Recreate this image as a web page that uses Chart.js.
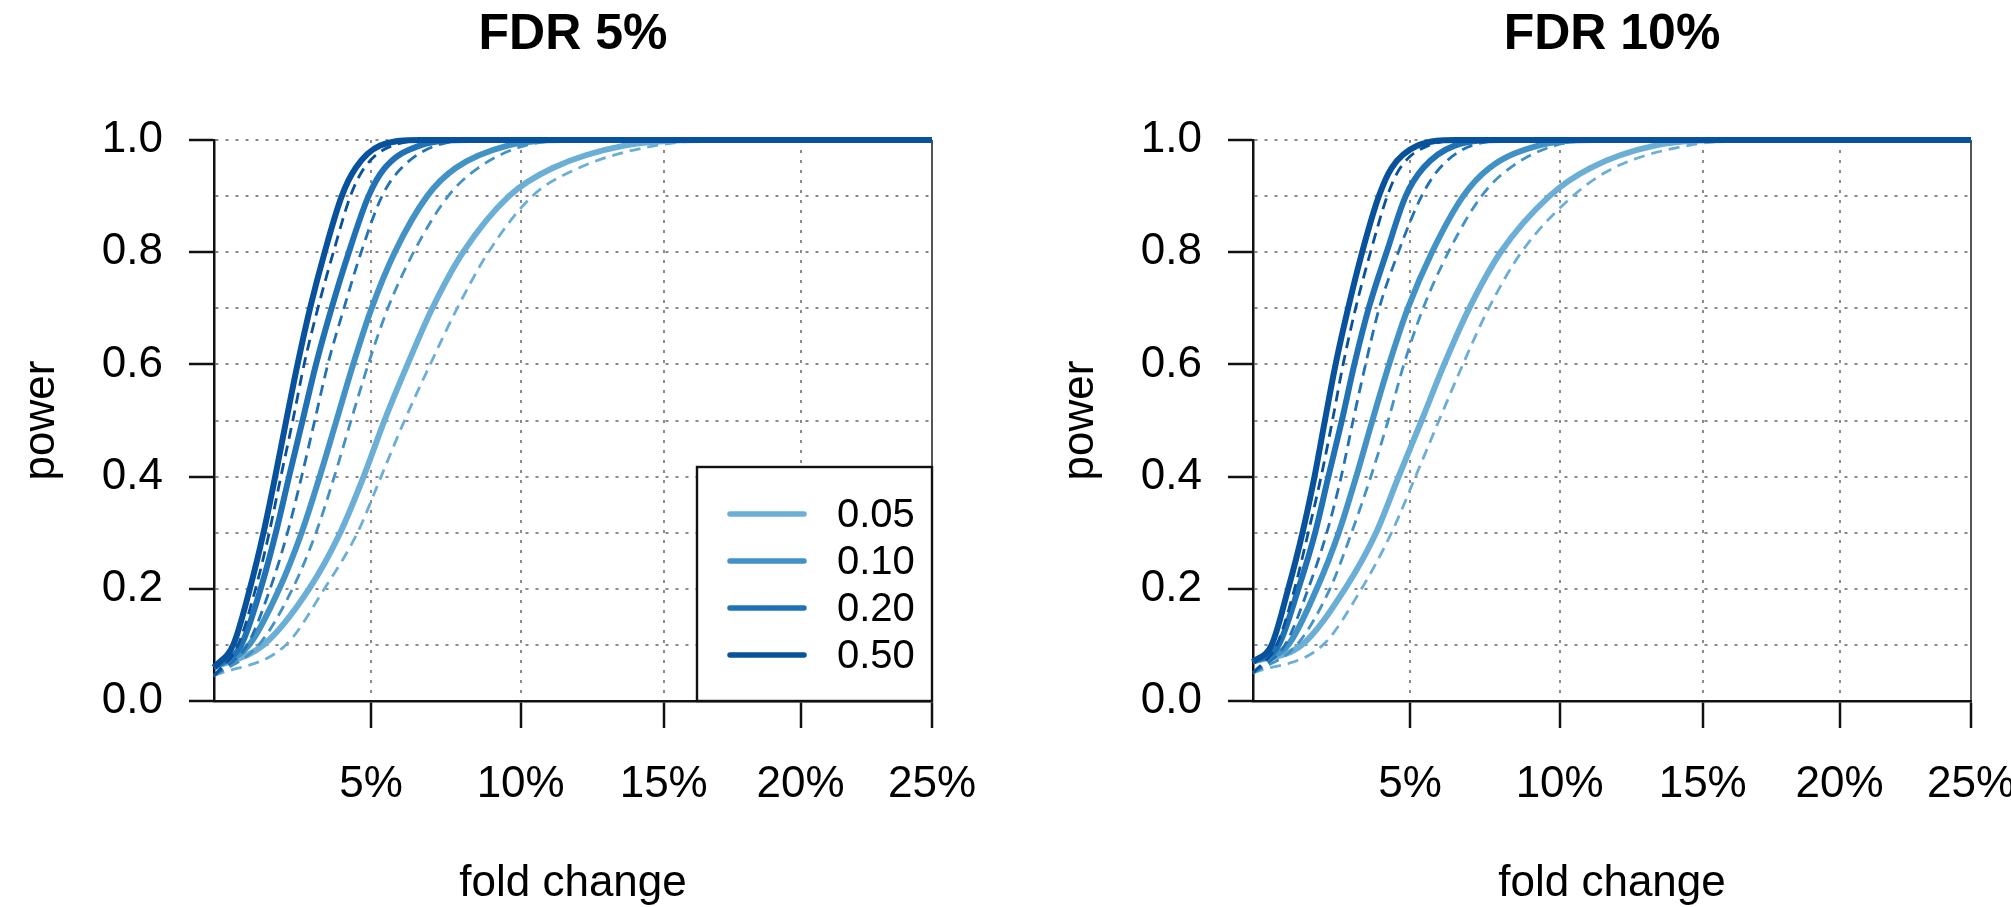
<!DOCTYPE html>
<html>
<head>
<meta charset="utf-8">
<script src="https://cdn.jsdelivr.net/npm/chart.js@4.4.1/dist/chart.umd.min.js"></script>
<style>
  html, body { margin: 0; padding: 0; background: #ffffff; width: 2011px; height: 907px; overflow: hidden; }
  canvas { position: absolute; top: 0; }
  #fdr5 { left: 0; width: 1040px; height: 907px; }
  #fdr10 { left: 1039px; width: 972px; height: 907px; }
</style>
</head>
<body>
<canvas id="fdr5" width="1040" height="907"></canvas>
<canvas id="fdr10" width="972" height="907"></canvas>
<script>
// ---------- data ----------
const panelTitles = ['FDR 5%', 'FDR 10%'];
const legendLabels = ['0.05', '0.10', '0.20', '0.50'];
const xTickValues = [5, 10, 15, 20, 25];           // fold change, %
const xTickLabels = ['5%', '10%', '15%', '20%', '25%'];
const yGridValues = [0, 0.1, 0.2, 0.3, 0.4, 0.5, 0.6, 0.7, 0.8, 0.9, 1.0];
const yTickLabels = ['0.0', '0.2', '0.4', '0.6', '0.8', '1.0'];

// power levels at which the fold change (%) of each curve was read
const powerLevels = [0.1, 0.2, 0.3, 0.4, 0.5, 0.6, 0.7, 0.8, 0.9, 0.95, 0.99, 1.0];

// FDR 5% panel: fold change (%) reaching each power level
const fdr5SolidStart = 0.06;
const fdr5DashedStart = 0.045;
const fdr5_p050_solid  = [0.60, 1.12, 1.55, 1.92, 2.27, 2.63, 3.03, 3.50, 4.05, 4.50, 5.30, 6.6];
const fdr5_p050_dashed = [0.75, 1.30, 1.73, 2.10, 2.48, 2.84, 3.28, 3.78, 4.33, 4.78, 5.70, 7.2];
const fdr5_p020_solid  = [0.85, 1.46, 1.94, 2.36, 2.79, 3.22, 3.72, 4.28, 4.92, 5.45, 6.60, 8.2];
const fdr5_p020_dashed = [1.04, 1.76, 2.31, 2.76, 3.18, 3.60, 4.12, 4.68, 5.36, 6.00, 7.15, 8.8];
const fdr5_p010_solid  = [1.10, 2.05, 2.76, 3.34, 3.88, 4.42, 5.02, 5.78, 6.85, 7.80, 9.55, 11.5];
const fdr5_p010_dashed = [1.40, 2.47, 3.22, 3.81, 4.35, 4.91, 5.55, 6.40, 7.55, 8.55, 10.15, 12.3];
const fdr5_p005_solid  = [1.55, 3.00, 4.00, 4.76, 5.44, 6.20, 7.02, 8.05, 9.60, 11.10, 13.60, 16.5];
const fdr5_p005_dashed = [2.26, 3.49, 4.56, 5.33, 6.10, 6.95, 7.85, 8.90, 10.40, 12.00, 14.70, 17.5];

// FDR 10% panel
const fdr10SolidStart = 0.07;
const fdr10DashedStart = 0.05;
const fdr10_p050_solid  = [0.58, 1.10, 1.55, 1.93, 2.26, 2.60, 3.00, 3.45, 3.99, 4.40, 5.25, 6.5];
const fdr10_p050_dashed = [0.74, 1.30, 1.73, 2.14, 2.50, 2.84, 3.24, 3.72, 4.26, 4.68, 5.60, 7.0];
const fdr10_p020_solid  = [0.80, 1.42, 1.95, 2.37, 2.80, 3.20, 3.66, 4.24, 4.86, 5.43, 6.47, 8.0];
const fdr10_p020_dashed = [1.00, 1.73, 2.32, 2.78, 3.16, 3.56, 4.00, 4.62, 5.38, 5.98, 7.03, 8.6];
const fdr10_p010_solid  = [1.10, 2.00, 2.70, 3.26, 3.78, 4.32, 4.93, 5.72, 6.75, 7.62, 9.27, 11.2];
const fdr10_p010_dashed = [1.37, 2.42, 3.11, 3.73, 4.29, 4.80, 5.43, 6.26, 7.36, 8.31, 9.83, 11.8];
const fdr10_p005_solid  = [1.53, 2.90, 3.90, 4.63, 5.38, 6.12, 6.95, 8.00, 9.65, 11.05, 13.30, 16.0];
const fdr10_p005_dashed = [2.20, 3.43, 4.40, 5.18, 5.95, 6.74, 7.60, 8.70, 10.45, 11.85, 14.46, 17.0];

// ---------- styling ----------
const seriesColors = ['#6BAED6', '#4292C6', '#2171B5', '#08519C'];
const FONT = "'Liberation Sans', Arial, Helvetica, sans-serif";

function curve(fc, start) {
  const pts = [{ x: 1, y: start }];
  powerLevels.forEach((p, i) => pts.push({ x: 1 + fc[i] / 100, y: p }));
  pts.push({ x: 1 + xTickValues[xTickValues.length - 1] / 100, y: 1 });
  return pts;
}

function lineDataset(label, pts, color, dashed) {
  return {
    label: label,
    data: pts,
    borderColor: color,
    backgroundColor: color,
    borderWidth: dashed ? 2.8 : 6,
    borderDash: dashed ? [11, 7] : [],
    borderCapStyle: 'butt',
    borderJoinStyle: 'round',
    pointRadius: 0,
    pointHoverRadius: 0,
    fill: false,
    cubicInterpolationMode: 'monotone',
    clip: 6
  };
}

function buildDatasets(series, solidStart, dashedStart) {
  // series ordered 0.50, 0.20, 0.10, 0.05 (first dataset is drawn on top)
  const out = [];
  series.forEach(s => {
    out.push(lineDataset(s.label, curve(s.solid, solidStart), s.color, false));
    out.push(lineDataset(s.label + ' (dashed)', curve(s.dashed, dashedStart), s.color, true));
  });
  return out;
}

const insetLegend = {
  id: 'insetLegend',
  afterDraw(chart, args, opts) {
    if (!opts || !opts.display) return;
    const ca = chart.chartArea;
    const ctx = chart.ctx;
    const w = 235, h = 234;
    const left = ca.right - w, top = ca.bottom - h;
    ctx.save();
    ctx.fillStyle = '#ffffff';
    ctx.fillRect(left, top, w, h);
    ctx.strokeStyle = '#111111';
    ctx.lineWidth = 2.4;
    ctx.strokeRect(left, top, w, h);
    legendLabels.forEach((lab, i) => {
      const y = top + 47 + i * 47;
      ctx.strokeStyle = seriesColors[i];
      ctx.lineWidth = 5.5;
      ctx.lineCap = 'round';
      ctx.beginPath();
      ctx.moveTo(left + 33, y);
      ctx.lineTo(left + 107, y);
      ctx.stroke();
      ctx.fillStyle = '#000000';
      ctx.font = '40px ' + FONT;
      ctx.textAlign = 'left';
      ctx.textBaseline = 'middle';
      ctx.fillText(lab, left + 140, y + 2);
    });
    ctx.restore();
  }
};

const lastX = 1 + xTickValues[xTickValues.length - 1] / 100;

function makeConfig(title, datasets, rightPad, showLegend) {
  return {
    type: 'line',
    data: { datasets: datasets },
    plugins: [insetLegend],
    options: {
      responsive: false,
      animation: false,
      devicePixelRatio: 1,
      events: [],
      layout: { padding: { left: 0, right: rightPad, top: 0, bottom: 0 } },
      plugins: {
        legend: { display: false },
        tooltip: { enabled: false },
        insetLegend: { display: showLegend },
        title: {
          display: true,
          text: title,
          fullSize: false,
          color: '#000000',
          font: { family: FONT, size: 50, weight: 'bold', lineHeight: 1.2 },
          padding: { top: 5, bottom: 75 }
        }
      },
      scales: {
        x: {
          type: 'logarithmic',
          min: 1,
          max: lastX,
          bounds: 'data',
          afterBuildTicks: s => { s.ticks = xTickValues.map(v => ({ value: 1 + v / 100 })); },
          afterFit: s => { s.height = 206; s.paddingLeft = 0; s.paddingRight = 0; },
          ticks: {
            autoSkip: false, maxRotation: 0, minRotation: 0,
            padding: 30, color: '#000000',
            font: { family: FONT, size: 44 },
            callback: (v, i) => xTickLabels[i]
          },
          grid: {
            color: c => (c.tick && Math.abs(c.tick.value - lastX) < 1e-9 ? '#555555' : '#8a8a8a'),
            lineWidth: 2,
            tickLength: 27, tickColor: '#111111', tickWidth: 2.5, tickBorderDash: []
          },
          border: {
            display: true, color: '#111111', width: 2.5,
            dash: c => (c.tick && Math.abs(c.tick.value - lastX) < 1e-9 ? [] : [3, 7])
          },
          title: {
            display: true, text: 'fold change', color: '#000000',
            font: { family: FONT, size: 44, lineHeight: 1.0 },
            padding: { top: 0, bottom: 1 }
          }
        },
        y: {
          type: 'linear',
          min: 0, max: 1,
          afterBuildTicks: s => { s.ticks = yGridValues.map(v => ({ value: v })); },
          afterFit: s => { s.width = 214; },
          ticks: {
            padding: 26, color: '#000000',
            font: { family: FONT, size: 44 },
            callback: (v, i) => (i % 2 === 0 ? yTickLabels[i / 2] : '')
          },
          grid: {
            color: '#8a8a8a', lineWidth: 2,
            tickLength: 25,
            tickColor: c => (c.index % 2 === 0 ? '#111111' : 'rgba(0,0,0,0)'),
            tickWidth: 2.5, tickBorderDash: []
          },
          border: { display: true, color: '#111111', width: 2.5, dash: [3, 7] },
          title: {
            display: true, text: 'power', color: '#000000',
            font: { family: FONT, size: 44, lineHeight: 1.2 },
            padding: { top: 15, bottom: 0 }
          }
        }
      }
    }
  };
}

const fdr5Series = [
  { label: legendLabels[3], color: seriesColors[3], solid: fdr5_p050_solid, dashed: fdr5_p050_dashed },
  { label: legendLabels[2], color: seriesColors[2], solid: fdr5_p020_solid, dashed: fdr5_p020_dashed },
  { label: legendLabels[1], color: seriesColors[1], solid: fdr5_p010_solid, dashed: fdr5_p010_dashed },
  { label: legendLabels[0], color: seriesColors[0], solid: fdr5_p005_solid, dashed: fdr5_p005_dashed }
];
const fdr10Series = [
  { label: legendLabels[3], color: seriesColors[3], solid: fdr10_p050_solid, dashed: fdr10_p050_dashed },
  { label: legendLabels[2], color: seriesColors[2], solid: fdr10_p020_solid, dashed: fdr10_p020_dashed },
  { label: legendLabels[1], color: seriesColors[1], solid: fdr10_p010_solid, dashed: fdr10_p010_dashed },
  { label: legendLabels[0], color: seriesColors[0], solid: fdr10_p005_solid, dashed: fdr10_p005_dashed }
];

new Chart(document.getElementById('fdr5'),
  makeConfig(panelTitles[0], buildDatasets(fdr5Series, fdr5SolidStart, fdr5DashedStart), 108, true));
new Chart(document.getElementById('fdr10'),
  makeConfig(panelTitles[1], buildDatasets(fdr10Series, fdr10SolidStart, fdr10DashedStart), 40, false));
</script>
</body>
</html>
